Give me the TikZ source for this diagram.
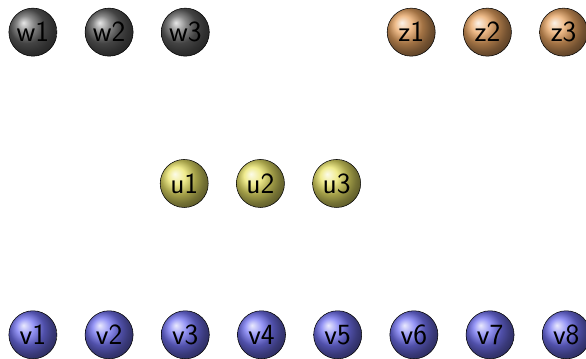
\documentclass[tikz,border=0pt]{standalone}
\usepackage{xcolor,tikz}
\usetikzlibrary{positioning,shadings}
\definecolor{coal}{HTML}{606060}
\definecolor{copper}{HTML}{E8A462}
\definecolor{olive}{HTML}{EAE468}
\definecolor{indigo}{HTML}{7272F2}
\tikzset{ball/.style={circle,draw=black,thin,minimum size=12.7mm,inner sep=0pt,font=\sffamily\fontsize{22}{25}\selectfont},wball/.style={ball,ball color=coal},zball/.style={ball,ball color=copper},uball/.style={ball,ball color=olive},vball/.style={ball,ball color=indigo}}
\begin{document}
\begin{tikzpicture}[node distance=7.3mm]
\useasboundingbox (-0.87,-0.63) rectangle (14.62,8.85);
% top row
\node[wball] (w1) at (0,8) {w1};
\node[wball,right=of w1] (w2) {w2};
\node[wball,right=of w2] (w3) {w3};
\node[zball] (z1) at (10,8) {z1};
\node[zball,right=of z1] (z2) {z2};
\node[zball,right=of z2] (z3) {z3};
% middle row
\node[uball] (u1) at (4,4) {u1};
\node[uball,right=of u1] (u2) {u2};
\node[uball,right=of u2] (u3) {u3};
% bottom row
\node[vball] (v1) at (0,0) {v1};
\node[vball,right=of v1] (v2) {v2};
\node[vball,right=of v2] (v3) {v3};
\node[vball,right=of v3] (v4) {v4};
\node[vball,right=of v4] (v5) {v5};
\node[vball,right=of v5] (v6) {v6};
\node[vball,right=of v6] (v7) {v7};
\node[vball,right=of v7] (v8) {v8};
\end{tikzpicture}
\end{document}
